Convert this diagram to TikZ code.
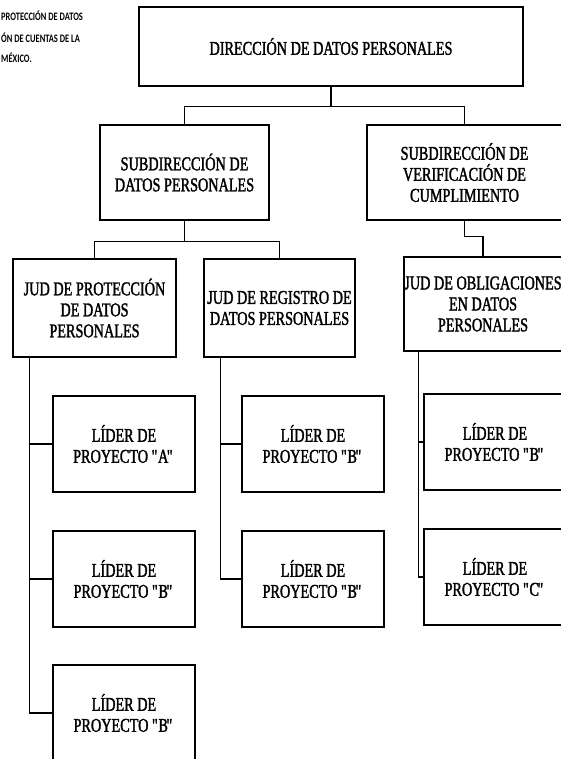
\documentclass[tikz,border=0pt]{standalone}
\usepackage{fontspec}
\setmainfont{Liberation Serif}[FakeStretch=0.73,FakeBold=1.6]
\newfontfamily\notefont{Carlito Bold}[FakeStretch=0.74]

\begin{document}
\begin{tikzpicture}[x=1pt,y=-1pt,
    unit/.style={draw, rectangle, line width=1.6pt, align=center, inner sep=0pt,
      font=\fontsize{19.5}{21}\selectfont},
    lider/.style={unit, minimum width=142pt, minimum height=96pt},
    link/.style={line width=1.3pt},
    note/.style={anchor=base west, inner sep=0pt,
      font=\notefont\fontsize{11.4}{12}\selectfont}]
  \useasboundingbox (0,0) rectangle (561,759);
  \clip (0,0) rectangle (561,759);

  \node[note] (n1) at (1,21) {PROTECCIÓN DE DATOS};
  \node[note] (n2) at (1,43) {ÓN DE CUENTAS DE LA};
  \node[note] (n3) at (1,63) {MÉXICO.};

  \node[unit, minimum width=384pt, minimum height=79pt] (dir)  at (331,46.5)   {DIRECCIÓN DE DATOS PERSONALES};
  \node[unit, minimum width=169pt, minimum height=95pt] (sub1) at (184.5,172.5) {SUBDIRECCIÓN DE\\DATOS PERSONALES};
  \node[unit, minimum width=195pt, minimum height=95pt] (sub2) at (464.5,172.5) {SUBDIRECCIÓN DE\\VERIFICACIÓN DE\\CUMPLIMIENTO};
  \node[unit, minimum width=163pt, minimum height=98pt] (jud1) at (94.5,308)   {JUD DE PROTECCIÓN\\DE DATOS\\PERSONALES};
  \node[unit, minimum width=151pt, minimum height=98pt] (jud2) at (279.5,308)  {JUD DE REGISTRO DE\\DATOS PERSONALES};
  \node[unit, minimum width=158pt, minimum height=94pt] (jud3) at (483,304)    {JUD DE OBLIGACIONES\\EN DATOS\\PERSONALES};

  \node[lider] (p1a) at (124,444) {LÍDER DE\\PROYECTO \textquotedbl\kern-1.5pt A\kern-1.5pt\textquotedbl};
  \node[lider] (p1b) at (124,579) {LÍDER DE\\PROYECTO \textquotedbl\kern-1.5pt B\kern-1.5pt\textquotedbl};
  \node[lider] (p1c) at (124,713) {LÍDER DE\\PROYECTO \textquotedbl\kern-1.5pt B\kern-1.5pt\textquotedbl};
  \node[lider] (p2a) at (313,444) {LÍDER DE\\PROYECTO \textquotedbl\kern-1.5pt B\kern-1.5pt\textquotedbl};
  \node[lider] (p2b) at (313,579) {LÍDER DE\\PROYECTO \textquotedbl\kern-1.5pt B\kern-1.5pt\textquotedbl};
  \node[lider] (p3a) at (495,442) {LÍDER DE\\PROYECTO \textquotedbl\kern-1.5pt B\kern-1.5pt\textquotedbl};
  \node[lider] (p3b) at (495,577) {LÍDER DE\\PROYECTO \textquotedbl\kern-1.5pt C\kern-1.5pt\textquotedbl};

  \coordinate (j1) at ([xshift=17pt]jud1.south west);
  \coordinate (j2) at ([xshift=17pt]jud2.south west);
  \coordinate (j3) at ([xshift=15pt]jud3.south west);

  \draw[link] (dir.south) -- ++(0,20) -| (sub1.north)
              (dir.south) -- ++(0,20) -| (sub2.north)
              (sub1.south) -- ++(0,21) -| (jud1.north)
              (sub1.south) -- ++(0,21) -| (jud2.north)
              (sub2.south) -- ++(0,16) -| (jud3.north);
  \draw[link] (j1) |- (p1a) (j1) |- (p1b) (j1) |- (p1c)
              (j2) |- (p2a) (j2) |- (p2b)
              (j3) |- (p3a) (j3) |- (p3b);
\end{tikzpicture}
\end{document}
